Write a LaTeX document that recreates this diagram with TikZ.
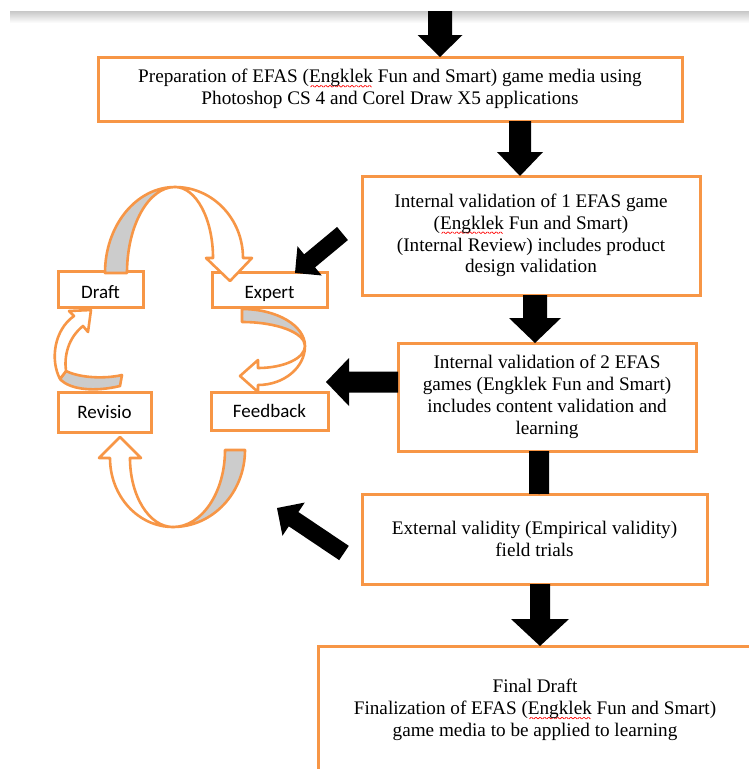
\documentclass[tikz,border=0pt]{standalone}
\usepackage{fontspec}
\setmainfont{Liberation Serif}
\newfontfamily\calib{Carlito}
\usepackage{graphicx}
\usetikzlibrary{calc}
\definecolor{orng}{HTML}{F79646}
\definecolor{ribg}{HTML}{CCCCCC}
\newsavebox\wavebox
\sbox\wavebox{\color{red}\rotatebox{45}{\rule{2.4pt}{0.7pt}}\raisebox{1.7pt}{\rotatebox{-45}{\rule{2.4pt}{0.7pt}}}}
\newcommand\spell[1]{\leavevmode\setbox0\hbox{#1}\rlap{\raisebox{-4.5pt}{\hbox to\wd0{\cleaders\copy\wavebox\hfill}}}\box0\relax}
\newcommand\blockarr[5]{%
  \coordinate (baA) at (#1);
  \coordinate (baB) at (#2);
  \coordinate (baH) at ($(baB)!#5!(baA)$);
  \fill[blk] ($(baA)!#3!90:(baB)$) -- ($(baH)!#3!90:(baB)$) -- ($(baH)!#4!90:(baB)$) -- (baB)
    -- ($(baH)!#4!-90:(baB)$) -- ($(baH)!#3!-90:(baB)$) -- ($(baA)!#3!-90:(baB)$) -- cycle;}
\begin{document}
\begin{tikzpicture}[x=1pt,y=-1pt,
  box/.style={draw=orng, line width=3pt, fill=white, inner sep=0pt, outer sep=0pt, align=center, font=\fontsize{19.2}{21.8}\selectfont},
  sbox/.style={draw=orng, line width=3pt, fill=white, inner sep=0pt, outer sep=0pt, font=\calib\fontsize{19}{22}\selectfont, text depth=0pt},
  ribbon/.style={draw=orng, line width=2.6pt, line join=round},
  blk/.style={fill=black}]
\useasboundingbox (0,0) rectangle (749,769);
\clip (0,0) rectangle (749,769);
\shade[top color=black!22, bottom color=white] (10,11) rectangle (749,23);

% main boxes
\node[box, minimum width=584pt, minimum height=64pt] (b1) at (390,89)
  {Preparation of EFAS (\spell{Engklek} Fun and Smart) game media using\\Photoshop CS 4 and Corel Draw X5 applications};
\node[box, minimum width=338pt, minimum height=119pt] (b2) at (531,235.5)
  {Internal validation of 1 EFAS game\\(\spell{Engklek} Fun and Smart)\\(Internal Review) includes product\\design validation};
\node[box, minimum width=298pt, minimum height=108pt] (b3) at (547,397)
  {Internal validation of 2 EFAS\\games (Engklek Fun and Smart)\\includes content validation and\\learning};
\node[box, minimum width=345pt, minimum height=90pt] (b4) at (534.5,539)
  {External validity (Empirical validity)\\field trials};
\node[box, minimum width=434pt, minimum height=128pt] (b5) at (535,710)
  {Final Draft\\Finalization of EFAS (\spell{Engklek} Fun and Smart)\\game media to be applied to learning};

% cycle boxes
\node[sbox, minimum width=85pt, minimum height=36pt, text height=18pt] (draft) at (100.5,289) {Draft};
\node[sbox, minimum width=115pt, minimum height=35pt, text height=18pt] (expert) at (269.5,289.5) {Expert};
\node[sbox, minimum width=93pt, minimum height=40pt, text height=12pt] (revisio) at (104.5,412) {Revisio};
\node[sbox, minimum width=117pt, minimum height=38pt, text height=12pt] (feedback) at (269.5,411) {Feedback};

% top ribbon (Draft -> Expert)
\filldraw[ribbon, fill=ribg] (105,273) arc[start angle=180, end angle=270, x radius=70, y radius=86]
  arc[start angle=270, end angle=180, x radius=48, y radius=86] -- cycle;
\filldraw[ribbon, fill=white] (175,187) arc[start angle=270, end angle=360, x radius=68, y radius=71]
  -- (252,258) -- (230,281) -- (206,258) -- (213,258)
  arc[start angle=0, end angle=-90, x radius=38, y radius=71] -- cycle;
% right ribbon (Expert -> Feedback)
\filldraw[ribbon, fill=ribg] (242,309) arc[start angle=270, end angle=360, x radius=63, y radius=37]
  arc[start angle=0, end angle=-90, x radius=63, y radius=24] -- cycle;
\filldraw[ribbon, fill=white] (305,346) arc[start angle=0, end angle=90, x radius=47, y radius=39]
  -- (258,392) -- (240,376) -- (258,360) -- (258,368)
  arc[start angle=90, end angle=0, x radius=47, y radius=22] -- cycle;
% bottom ribbon (Feedback -> Revisio)
\filldraw[ribbon, fill=ribg] (245,450) arc[start angle=0, end angle=90, x radius=72, y radius=77]
  arc[start angle=90, end angle=0, x radius=52, y radius=77] -- cycle;
\filldraw[ribbon, fill=white] (173,527) arc[start angle=90, end angle=180, x radius=63, y radius=69]
  -- (99,458) -- (120,437) -- (141,458) -- (130,458)
  arc[start angle=180, end angle=90, x radius=43, y radius=69] -- cycle;
% left ribbon (Revisio -> Draft)
\filldraw[ribbon, fill=ribg] (120,386) .. controls (95,392) and (70,390) .. (60,379) -- (66,371)
  .. controls (80,378) and (105,379) .. (122,375) -- cycle;
\filldraw[ribbon, fill=white] (60,379) .. controls (50,360) and (54,330) .. (74,316) -- (69,311) -- (91,310)
  -- (88,332) -- (83,326) .. controls (68,338) and (64,356) .. (66,371) -- cycle;

% black block arrows
\coordinate (t0) at (440,11);
\blockarr{t0}{b1.north -| t0}{12pt}{22.5pt}{22pt}
\coordinate (x1) at (520,0);
\blockarr{b1.south -| x1}{b2.north -| x1}{11pt}{23pt}{24pt}
\coordinate (x2) at (535,0);
\blockarr{b2.south -| x2}{b3.north -| x2}{12pt}{26pt}{25pt}
\coordinate (x3) at (539,0);
\blockarr{b3.south -| x3}{b4.north -| x3}{10pt}{10pt}{0.1pt}
\coordinate (x4) at (540,0);
\blockarr{b4.south -| x4}{b5.north -| x4}{10pt}{29pt}{27pt}
\coordinate (s5) at ($(b3.west)+(0,-15)$);
\coordinate (e5) at ($(feedback.north east)+(-2,-10)$);
\blockarr{s5}{e5}{10.5pt}{24pt}{23pt}
\coordinate (s6) at (342.5,233.5);
\coordinate (e6) at ($(expert.north)+(25.5,1)$);
\blockarr{s6}{e6}{8.5pt}{19pt}{19pt}
\coordinate (s7) at ($(b4.west)+(-18,14)$);
\coordinate (e7) at (277,508);
\blockarr{s7}{e7}{8.6pt}{20pt}{20pt}
\end{tikzpicture}
\end{document}
